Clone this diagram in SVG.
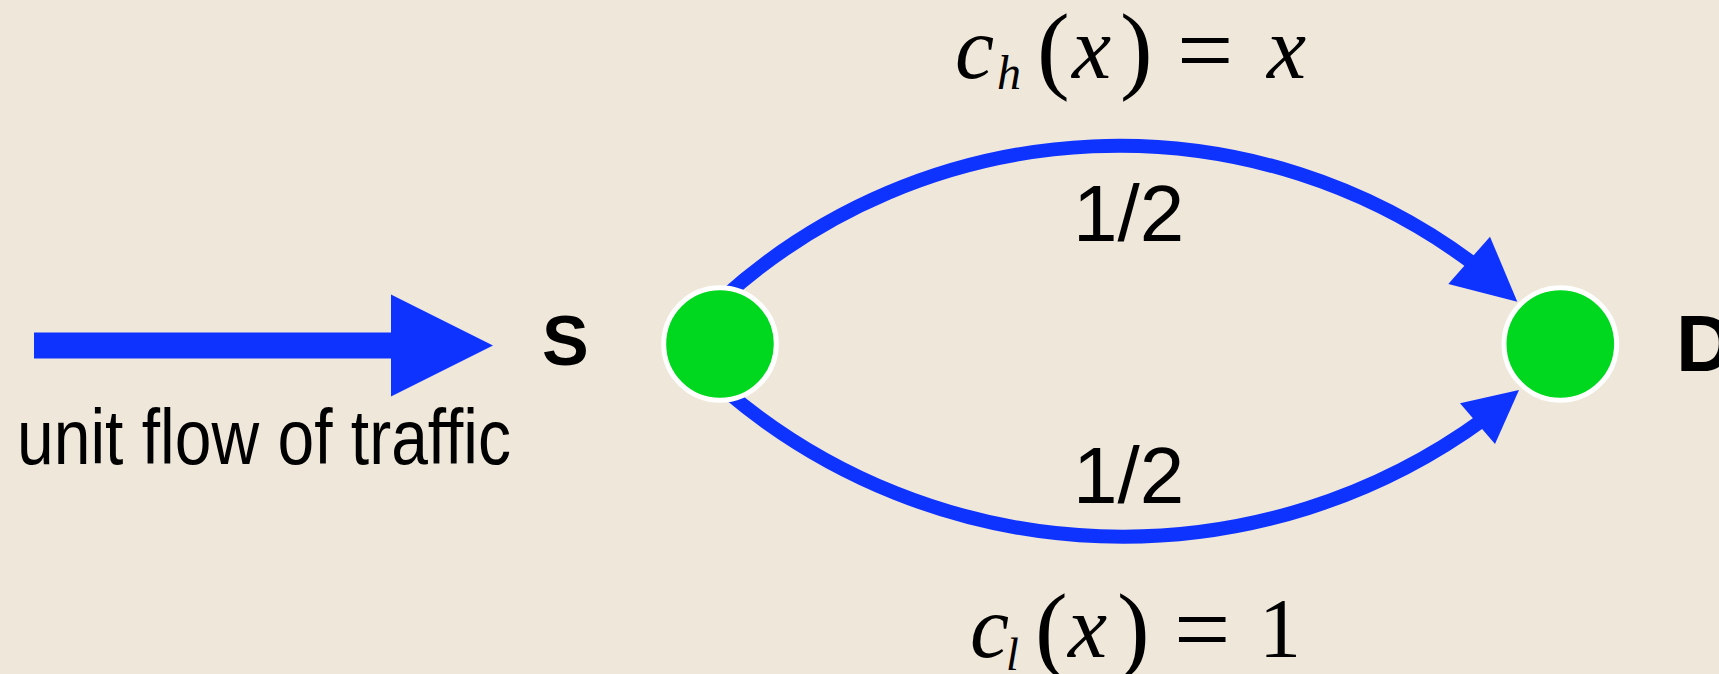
<svg xmlns="http://www.w3.org/2000/svg" width="1719" height="674" viewBox="0 0 1719 674">
<style>
.edge{fill:none;stroke:#0F33FF;stroke-width:14}
.head{fill:#0F33FF}
.node{fill:#00D820;stroke:#FFFFFF;stroke-width:5}
.lbl{font-family:"Liberation Sans",Arial,sans-serif;fill:#000}
.bold{font-weight:bold}
.math{font-family:"Liberation Serif","Times New Roman",serif;fill:#000}
.it{font-style:italic}
</style>
<rect x="0" y="0" width="1719" height="674" fill="#EFE7DA"/>
<g id="connectors">
  <g id="input-arrow">
    <rect x="34" y="332.5" width="357" height="26" class="head"/>
    <polygon points="391,294.5 493,345.5 391,396.5" class="head"/>
  </g>
  <g id="edge-top">
    <path d="M722,299 A591,591 0 0 1 1475,265" class="edge"/>
    <polygon points="1517.3,301.7 1448.3,284 1490,236.7" class="head"/>
  </g>
  <g id="edge-bottom">
    <path d="M726,391 A613,613 0 0 0 1484,419" class="edge"/>
    <polygon points="1519,390 1460,403.3 1495,444" class="head"/>
  </g>
</g>
<g id="node-S">
  <circle cx="720" cy="344" r="56.3" class="node"/>
  <text x="542" y="365" class="lbl bold" font-size="70">S</text>
</g>
<g id="node-D">
  <circle cx="1560.3" cy="344" r="56.3" class="node"/>
  <text x="1676" y="371" class="lbl bold" font-size="80">D</text>
</g>
<g id="labels">
  <text x="17" y="464" class="lbl" font-size="78" textLength="494" lengthAdjust="spacingAndGlyphs">unit flow of traffic</text>
  <text x="1073" y="241" class="lbl" font-size="80">1/2</text>
  <text x="1073" y="503" class="lbl" font-size="80">1/2</text>
  <text class="math" font-size="88"><tspan x="955" y="78" class="it">c</tspan><tspan x="997" y="89" class="it" font-size="48">h</tspan><tspan x="1037" y="81" font-size="98">(</tspan><tspan x="1072" y="78" class="it">x</tspan><tspan x="1120" y="81" font-size="98">)</tspan><tspan x="1177" y="84" font-size="100">=</tspan><tspan x="1267" y="78" class="it">x</tspan></text>
  <text class="math" font-size="88"><tspan x="970" y="657" class="it">c</tspan><tspan x="1006" y="670" class="it" font-size="46">l</tspan><tspan x="1035" y="661" font-size="98">(</tspan><tspan x="1068" y="657" class="it">x</tspan><tspan x="1117" y="661" font-size="98">)</tspan><tspan x="1174" y="663" font-size="100">=</tspan><tspan x="1259" y="657" font-size="84">1</tspan></text>
</g>
</svg>
